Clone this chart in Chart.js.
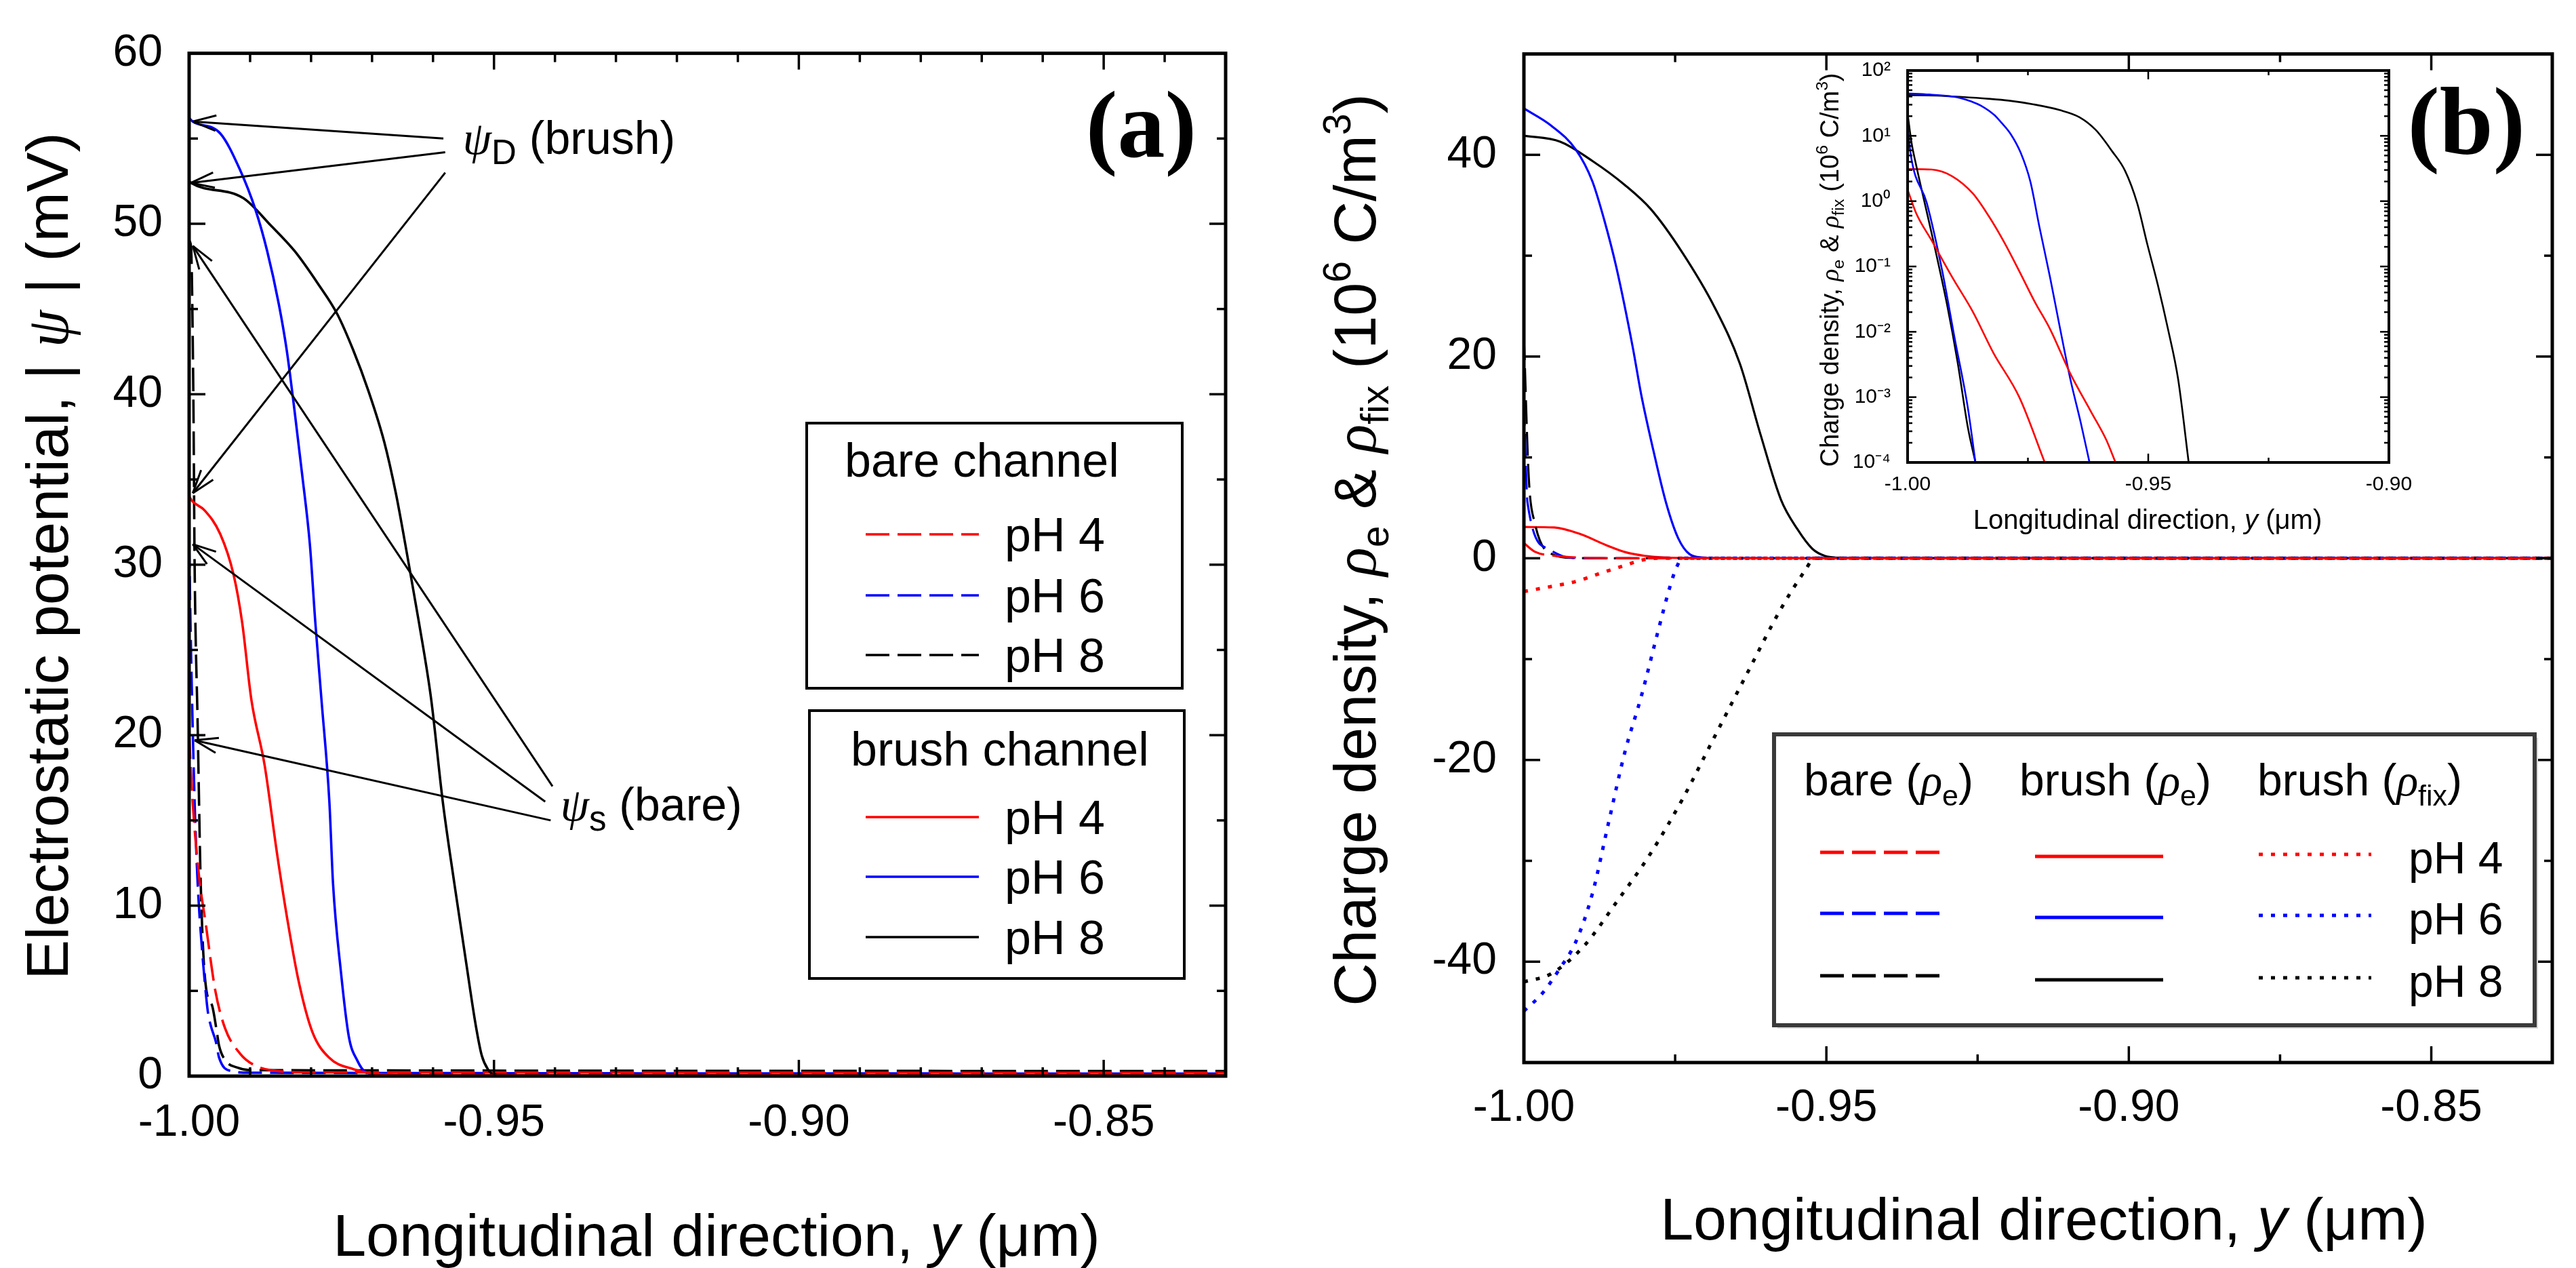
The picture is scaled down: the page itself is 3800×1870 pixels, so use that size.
<!DOCTYPE html>
<html lang="en">
<head>
<meta charset="UTF-8">
<title>Potential and charge density along the channel</title>
<script src="https://cdn.jsdelivr.net/npm/chart.js@4.4.7/dist/chart.umd.min.js"></script>
<style>
  html, body { margin: 0; padding: 0; background: #fff; }
  body { width: 3800px; height: 1870px; position: relative; overflow: hidden; }
  canvas { position: absolute; }
  #chartA { left: 0; top: 0; }
  #chartB { left: 1900px; top: 0; }
  #inset { left: 2600px; top: 40px; }
</style>
</head>
<body>
<canvas id="chartA" width="1900" height="1870"></canvas>
<canvas id="chartB" width="1900" height="1870"></canvas>
<canvas id="inset" width="1000" height="800"></canvas>
<script>
// ---------- data ----------
// (a) electrostatic potential |psi| (mV) vs y (um)
const yBare4 = [-1.000, -0.9995, -0.9984, -0.9973, -0.9957, -0.9941, -0.9916, -0.9896, -0.9866, -0.980, -0.830];
const psiBare4 = [20.0, 16.5, 11.8, 9.0, 5.0, 2.8, 1.3, 0.7, 0.35, 0.22, 0.2];
const yBare6 = [-1.000, -0.9997, -0.9991, -0.9986, -0.9979, -0.9973, -0.9969, -0.9964, -0.9956, -0.9951, -0.9932, -0.990, -0.830];
const psiBare6 = [31.2, 25.1, 16.1, 11.3, 7.5, 5.0, 3.7, 2.9, 2.0, 1.1, 0.3, 0.2, 0.15];
const yBare8 = [-1.000, -0.9997, -0.9993, -0.9991, -0.9986, -0.9981, -0.9973, -0.9962, -0.9955, -0.9951, -0.994, -0.9921, -0.990, -0.830];
const psiBare8 = [49.0, 48.7, 39.6, 30.0, 20.6, 11.3, 5.4, 4.1, 2.7, 1.8, 0.9, 0.5, 0.35, 0.3];
const yBrush4 = [-1.000, -0.9994, -0.9975, -0.9949, -0.9927, -0.9913, -0.9898, -0.9876, -0.9856, -0.9838, -0.982, -0.9798, -0.9771, -0.973, -0.969, -0.960, -0.830];
const psiBrush4 = [34.0, 33.7, 33.2, 31.8, 29.4, 26.6, 22.1, 18.2, 13.1, 9.0, 5.5, 2.6, 1.1, 0.4, 0.12, 0.05, 0.05];
const yBrush6 = [-1.000, -0.9994, -0.9949, -0.9917, -0.9891, -0.9872, -0.9853, -0.984, -0.9827, -0.9815, -0.9802, -0.9793, -0.9783, -0.977, -0.9764, -0.9751, -0.9738, -0.9724, -0.9711, -0.968, -0.830];
const psiBrush6 = [56.2, 56.0, 55.3, 53.2, 50.8, 48.4, 45.3, 42.6, 39.0, 35.4, 31.2, 26.6, 22.1, 16.1, 11.3, 6.1, 2.3, 0.9, 0.25, 0.05, 0.05];
const yBrush8 = [-1.000, -0.9997, -0.9911, -0.9866, -0.9827, -0.9789, -0.9757, -0.9731, -0.9706, -0.968, -0.9661, -0.9642, -0.9623, -0.9603, -0.9584, -0.9565, -0.9545, -0.953, -0.952, -0.951, -0.950, -0.945, -0.830];
const psiBrush8 = [52.5, 52.4, 51.5, 49.9, 48.4, 46.5, 44.7, 42.6, 40.2, 37.2, 34.2, 30.5, 26.6, 22.1, 16.1, 11.3, 6.5, 3.0, 1.2, 0.4, 0.1, 0.05, 0.05];

// (b) charge density (10^6 C/m^3): rho_e is positive, rho_fix negative
const yRhoBare4 = [-1.000, -0.9982, -0.995, -0.9907, -0.9864, -0.9822, -0.9768, -0.9715];
const rhoBare4 = [1.5, 0.65, 0.25, 0.068, 0.02, 0.0048, 0.001, 0.0001];
const yRhoBare6 = [-1.000, -0.9994, -0.996, -0.9928, -0.9902, -0.9875, -0.9859];
const rhoBare6 = [15.5, 5.5, 0.93, 0.085, 0.0078, 0.0007, 0.0001];
const yRhoBare8 = [-1.000, -0.9992, -0.9982, -0.995, -0.9918, -0.9896, -0.9875, -0.9859];
const rhoBare8 = [22.0, 8.0, 3.5, 0.32, 0.026, 0.0034, 0.00035, 0.0001];
const yRhoBrush4 = [-1.000, -0.995, -0.9907, -0.9864, -0.9832, -0.980, -0.9768, -0.9736, -0.9704, -0.9662, -0.9619, -0.9587, -0.9568];
const rhoBrush4 = [3.1, 3.05, 2.4, 1.3, 0.6, 0.24, 0.085, 0.029, 0.011, 0.0023, 0.0006, 0.00022, 0.0001];
const yRhoBrush6 = [-1.000, -0.9955, -0.9914, -0.9887, -0.9867, -0.9847, -0.982, -0.9806, -0.9786, -0.9765, -0.9745, -0.9726, -0.9704, -0.9683, -0.9662, -0.964, -0.9622];
const rhoBrush6 = [44.6, 42.9, 40.5, 37.4, 33.5, 28.8, 20.9, 16.2, 10.7, 5.5, 2.0, 0.4, 0.068, 0.011, 0.0019, 0.0004, 0.0001];
const yRhoBrush8 = [-1.000, -0.994, -0.9887, -0.9833, -0.979, -0.9738, -0.9684, -0.9643, -0.9609, -0.9575, -0.9548, -0.9523, -0.9502, -0.948, -0.9459, -0.9438, -0.9416];
const rhoBrush8 = [41.9, 41.3, 39.4, 37.0, 34.6, 30.3, 24.8, 19.3, 12.3, 5.8, 2.9, 0.93, 0.22, 0.052, 0.011, 0.0019, 0.0001];
const yFix4 = [-1.000, -0.9955, -0.9914, -0.9874, -0.9833, -0.9806, -0.978, -0.830];
const rhoFix4 = [-3.3, -2.8, -2.3, -1.5, -0.7, -0.2, 0, 0];
const yFix6 = [-1.000, -0.9969, -0.9942, -0.9914, -0.9887, -0.986, -0.9833, -0.9806, -0.9779, -0.9758, -0.9749, -0.9738, -0.830];
const rhoFix6 = [-44.9, -43.1, -40.8, -38.0, -33.3, -26.2, -19.2, -13.7, -7.4, -2.7, -1.1, 0, 0];
const yFix8 = [-1.000, -0.9955, -0.990, -0.9847, -0.9792, -0.9738, -0.9684, -0.963, -0.9575, -0.9534, -0.952, -0.830];
const rhoFix8 = [-42.0, -41.2, -38.4, -34.1, -29.4, -23.9, -17.6, -11.3, -5.0, -1.1, 0, 0];

// tick values and labels
const xTicksMain = [-1.00, -0.95, -0.90, -0.85];
const yTicksA = [0, 10, 20, 30, 40, 50, 60];
const yTicksB = [-40, -20, 0, 20, 40];
const xTicksInset = [-1.00, -0.95, -0.90];
const yTicksInset = [1e-4, 1e-3, 1e-2, 1e-1, 1, 10, 100];
const yLabelsInset = ['10\u207B\u2074', '10\u207B\u00B3', '10\u207B\u00B2', '10\u207B\u00B9', '10\u2070', '10\u00B9', '10\u00B2'];

// annotation arrows of panel (a): [tail x, tail y, head x, head y] in data units
const arrowsPsiD = [[-0.9583, 55.0, -0.9994, 56.0], [-0.9580, 54.2, -0.9997, 52.4], [-0.9580, 53.0, -0.9994, 34.2]];
const arrowsPsiS = [[-0.9404, 17.0, -0.9994, 48.7], [-0.9416, 16.1, -0.9994, 31.2], [-0.9407, 15.0, -0.9991, 19.7]];
const labelPsiD = [-0.9551, 54.1];
const labelPsiS = [-0.9391, 15.0];

// ---------- helpers ----------
const FONT = '"Liberation Sans", Arial, sans-serif';
const GREEK = '"Liberation Serif", "DejaVu Serif", serif';
const RED = '#ff0000', BLUE = '#0000ff', BLACK = '#000000';
const DASH = [35, 12], DOT = [6, 12];

function pts(xs, ys) { return xs.map((x, i) => ({ x: x, y: ys[i] })); }

function line(xs, ys, color, dash, width) {
  return {
    data: pts(xs, ys), borderColor: color, borderDash: dash || [], borderWidth: width,
    pointRadius: 0, fill: false, cubicInterpolationMode: 'monotone'
  };
}

function runFont(r, size) {
  const s = (r.sub || r.sup) ? size * (r.small || 0.65) : size;
  return (r.it ? 'italic ' : '') + s + 'px ' + (r.gr ? GREEK : FONT);
}

function drawRich(ctx, runs, x, y, size, align, rot) {
  ctx.save();
  ctx.translate(x, y);
  ctx.rotate(rot || 0);
  ctx.fillStyle = '#000';
  ctx.textBaseline = 'alphabetic';
  ctx.textAlign = 'left';
  let w = 0;
  runs.forEach(r => { ctx.font = runFont(r, size); w += ctx.measureText(r.t).width; });
  let cx = align === 'center' ? -w / 2 : (align === 'right' ? -w : 0);
  runs.forEach(r => {
    ctx.font = runFont(r, size);
    const dy = r.sub ? size * 0.22 : (r.sup ? -size * 0.42 : 0);
    ctx.fillText(r.t, cx, dy);
    cx += ctx.measureText(r.t).width;
  });
  ctx.restore();
}

function seg(ctx, x1, y1, x2, y2) {
  ctx.beginPath(); ctx.moveTo(x1, y1); ctx.lineTo(x2, y2); ctx.stroke();
}

// box frame with inward ticks on all four sides
function frameTicks(chart, s) {
  const { ctx, chartArea: a } = chart;
  const x = chart.scales.x, y = chart.scales.y;
  ctx.save();
  ctx.strokeStyle = '#000';
  ctx.lineCap = 'butt';
  ctx.lineWidth = s.tickWidth;
  const xt = (v, len) => {
    const p = x.getPixelForValue(v);
    seg(ctx, p, a.bottom, p, a.bottom - len);
    seg(ctx, p, a.top, p, a.top + len);
  };
  const yt = (v, len) => {
    const p = y.getPixelForValue(v);
    seg(ctx, a.left, p, a.left + len, p);
    seg(ctx, a.right, p, a.right - len, p);
  };
  s.xMajor.forEach(v => xt(v, s.major));
  s.xMinor.forEach(v => xt(v, s.minor));
  s.yMajor.forEach(v => yt(v, s.major));
  s.yMinor.forEach(v => yt(v, s.minor));
  ctx.lineWidth = s.frame;
  ctx.strokeRect(a.left, a.top, a.right - a.left, a.bottom - a.top);
  ctx.restore();
}

function axisX(ticks, fmt, fontSize, pad, height, min, max) {
  return {
    type: 'linear', min: min, max: max,
    afterBuildTicks: s => { s.ticks = ticks.map(v => ({ value: v })); },
    afterFit: s => { s.height = height; },
    grid: { display: false, drawTicks: false }, border: { display: false },
    ticks: { callback: fmt, font: { family: FONT, size: fontSize }, color: '#000', padding: pad, maxRotation: 0, autoSkip: false }
  };
}

function axisY(type, ticks, fmt, fontSize, pad, width, min, max) {
  return {
    type: type, min: min, max: max,
    afterBuildTicks: s => { s.ticks = ticks.map(v => ({ value: v })); },
    afterFit: s => { s.width = width; },
    grid: { display: false, drawTicks: false }, border: { display: false },
    ticks: { callback: fmt, font: { family: FONT, size: fontSize }, color: '#000', padding: pad, autoSkip: false }
  };
}

function baseOptions(padding, scales) {
  return {
    responsive: false, animation: false, devicePixelRatio: 1,
    layout: { padding: padding },
    plugins: { legend: { display: false }, tooltip: { enabled: false } },
    scales: scales
  };
}

const titleX = [{ t: 'Longitudinal direction, ' }, { t: 'y', it: true }, { t: ' (\u03BCm)' }];

// ---------- panel (a) ----------
const minorA = [];
for (let k = 1; k < 17; k++) { if (k % 5) minorA.push(-1 + k * 0.01); }

const panelA = {
  id: 'panelA',
  afterDraw(chart) {
    const ctx = chart.ctx;
    const xs = chart.scales.x, ys = chart.scales.y;
    frameTicks(chart, {
      xMajor: xTicksMain, xMinor: minorA, yMajor: yTicksA, yMinor: [5, 15, 25, 35, 45, 55],
      major: 24, minor: 13, tickWidth: 3.5, frame: 5
    });

    // annotation arrows
    ctx.save();
    ctx.strokeStyle = '#000';
    ctx.lineWidth = 3;
    arrowsPsiD.concat(arrowsPsiS).forEach(r => {
      const x1 = xs.getPixelForValue(r[0]), y1 = ys.getPixelForValue(r[1]);
      const x2 = xs.getPixelForValue(r[2]), y2 = ys.getPixelForValue(r[3]);
      seg(ctx, x1, y1, x2, y2);
      const ang = Math.atan2(y1 - y2, x1 - x2);
      [0.32, -0.32].forEach(d => seg(ctx, x2, y2, x2 + 36 * Math.cos(ang + d), y2 + 36 * Math.sin(ang + d)));
    });
    ctx.restore();
    drawRich(ctx, [{ t: '\u03C8', it: true, gr: true }, { t: 'D', sub: true, small: 0.75 }, { t: ' (brush)' }],
      xs.getPixelForValue(labelPsiD[0]), ys.getPixelForValue(labelPsiD[1]), 68, 'left');
    drawRich(ctx, [{ t: '\u03C8', it: true, gr: true }, { t: 's', sub: true, small: 0.75 }, { t: ' (bare)' }],
      xs.getPixelForValue(labelPsiS[0]), ys.getPixelForValue(labelPsiS[1]), 68, 'left');

    // legend boxes
    ctx.save();
    ctx.lineWidth = 4;
    ctx.strokeStyle = '#000';
    ctx.fillStyle = '#fff';
    [[1190, 624, 554, 391], [1194, 1048, 553, 395]].forEach(b => {
      ctx.fillRect(b[0], b[1], b[2], b[3]);
      ctx.strokeRect(b[0], b[1], b[2], b[3]);
    });
    ctx.restore();
    drawRich(ctx, [{ t: 'bare channel' }], 1246, 703, 70, 'left');
    drawRich(ctx, [{ t: 'brush channel' }], 1255, 1129, 70, 'left');
    const rows = [
      [788, RED, DASH, 'pH 4'], [878, BLUE, DASH, 'pH 6'], [966, BLACK, DASH, 'pH 8'],
      [1205, RED, [], 'pH 4'], [1293, BLUE, [], 'pH 6'], [1382, BLACK, [], 'pH 8']
    ];
    rows.forEach(r => {
      ctx.save();
      ctx.strokeStyle = r[1];
      ctx.lineWidth = 3.5;
      ctx.setLineDash(r[2]);
      seg(ctx, 1277, r[0], 1444, r[0]);
      ctx.restore();
      drawRich(ctx, [{ t: r[3] }], 1482, r[0] + 25, 70, 'left');
    });

    // panel tag and axis titles
    ctx.save();
    ctx.font = 'bold 140px "Liberation Serif", serif';
    ctx.fillStyle = '#000';
    ctx.textAlign = 'right';
    ctx.fillText('(a)', 1765, 231);
    ctx.restore();
    drawRich(ctx, [{ t: 'Electrostatic potential, | ' }, { t: '\u03C8', it: true, gr: true }, { t: ' | (mV)' }],
      100, 820, 88, 'center', -Math.PI / 2);
    drawRich(ctx, titleX, 1057, 1852, 88, 'center');
  }
};

new Chart(document.getElementById('chartA'), {
  type: 'line',
  data: {
    datasets: [
      line(yBrush4, psiBrush4, RED, [], 3.6),
      line(yBrush6, psiBrush6, BLUE, [], 3.6),
      line(yBrush8, psiBrush8, BLACK, [], 3.6),
      line(yBare4, psiBare4, RED, DASH, 3.6),
      line(yBare6, psiBare6, BLUE, DASH, 3.6),
      line(yBare8, psiBare8, BLACK, DASH, 3.6)
    ]
  },
  options: baseOptions({ left: 0, top: 58, right: 92, bottom: 0 }, {
    x: axisX(xTicksMain, v => v.toFixed(2), 66, 30, 283, -1.0, -0.83),
    y: axisY('linear', yTicksA, v => String(v), 66, 39, 279, 0, 60)
  }),
  plugins: [panelA]
});

// ---------- panel (b) ----------
const rhoE = (xs, ys) => ({ x: xs.concat([-0.83]), y: ys.concat([0]) });
const b4 = rhoE(yRhoBare4, rhoBare4), b6 = rhoE(yRhoBare6, rhoBare6), b8 = rhoE(yRhoBare8, rhoBare8);
const r4 = rhoE(yRhoBrush4, rhoBrush4), r6 = rhoE(yRhoBrush6, rhoBrush6), r8 = rhoE(yRhoBrush8, rhoBrush8);

const rhoRun = sub => [{ t: '\u03C1', it: true, gr: true }, { t: sub, sub: true }];

const panelB = {
  id: 'panelB',
  afterDraw(chart) {
    const ctx = chart.ctx;
    frameTicks(chart, {
      xMajor: xTicksMain, xMinor: [-0.975, -0.925, -0.875], yMajor: yTicksB, yMinor: [-30, -10, 10, 30],
      major: 24, minor: 12, tickWidth: 3.5, frame: 5
    });

    // legend
    const L = 717, T = 1083, W = 1122, H = 429;
    ctx.save();
    ctx.fillStyle = '#d8d8d8';
    ctx.fillRect(L + 5, T + 5, W, H);
    ctx.fillStyle = '#fff';
    ctx.fillRect(L, T, W, H);
    ctx.strokeStyle = '#3a3a3a';
    ctx.lineWidth = 6;
    ctx.strokeRect(L, T, W, H);
    ctx.restore();
    drawRich(ctx, [{ t: 'bare (' }].concat(rhoRun('e'), [{ t: ')' }]), 761, 1173, 66, 'left');
    drawRich(ctx, [{ t: 'brush (' }].concat(rhoRun('e'), [{ t: ')' }]), 1079, 1173, 66, 'left');
    drawRich(ctx, [{ t: 'brush (' }].concat(rhoRun('fix'), [{ t: ')' }]), 1430, 1173, 66, 'left');
    [[1260, RED, 'pH 4'], [1350, BLUE, 'pH 6'], [1442, BLACK, 'pH 8']].forEach(r => {
      ctx.save();
      ctx.strokeStyle = r[1];
      ctx.lineWidth = 5;
      ctx.setLineDash(DASH);
      seg(ctx, 785, r[0] - 3, 965, r[0] - 3);
      ctx.setLineDash([]);
      seg(ctx, 1102, r[0] + 3, 1291, r[0] + 3);
      ctx.setLineDash(DOT);
      seg(ctx, 1432, r[0], 1598, r[0]);
      ctx.restore();
      drawRich(ctx, [{ t: r[2] }], 1653, r[0] + 28, 66, 'left');
    });

    ctx.save();
    ctx.font = 'bold 142px "Liberation Serif", serif';
    ctx.fillStyle = '#000';
    ctx.textAlign = 'right';
    ctx.fillText('(b)', 1825, 227);
    ctx.restore();
    drawRich(ctx, [{ t: 'Charge density, ' }].concat(rhoRun('e'), [{ t: ' & ' }], rhoRun('fix'),
      [{ t: ' (10' }, { t: '6', sup: true }, { t: ' C/m' }, { t: '3', sup: true }, { t: ')' }]),
      129, 811, 88, 'center', -Math.PI / 2);
    drawRich(ctx, titleX, 1115, 1828, 88, 'center');
  }
};

new Chart(document.getElementById('chartB'), {
  type: 'line',
  data: {
    datasets: [
      line(b4.x, b4.y, RED, DASH, 3.2),
      line(b6.x, b6.y, BLUE, DASH, 3.2),
      line(b8.x, b8.y, BLACK, DASH, 3.2),
      line(r4.x, r4.y, RED, [], 3.2),
      line(r6.x, r6.y, BLUE, [], 3.2),
      line(r8.x, r8.y, BLACK, [], 3.2),
      line(yFix4, rhoFix4, RED, DOT, 5),
      line(yFix6, rhoFix6, BLUE, DOT, 5),
      line(yFix8, rhoFix8, BLACK, DOT, 5)
    ]
  },
  options: baseOptions({ left: 0, top: 46, right: 35, bottom: 0 }, {
    x: axisX(xTicksMain, v => v.toFixed(2), 66, 28, 303, -1.0, -0.83),
    y: axisY('linear', yTicksB, v => String(v), 66, 40, 348, -50, 50)
  }),
  plugins: [panelB]
});

// ---------- inset of (b): rho_e on a log axis ----------
const logMinor = [];
for (let d = -4; d < 2; d++) { for (let k = 2; k < 10; k++) logMinor.push(k * Math.pow(10, d)); }

const insetDraw = {
  id: 'insetDraw',
  afterDraw(chart) {
    const ctx = chart.ctx;
    frameTicks(chart, {
      xMajor: xTicksInset, xMinor: [-0.975, -0.925], yMajor: yTicksInset, yMinor: logMinor,
      major: 13, minor: 7, tickWidth: 2.5, frame: 4
    });
    drawRich(ctx, [{ t: 'Charge density, ' }].concat(rhoRun('e'), [{ t: ' & ' }], rhoRun('fix'),
      [{ t: ' (10' }, { t: '6', sup: true }, { t: ' C/m' }, { t: '3', sup: true }, { t: ')' }]),
      112, 358, 38, 'center', -Math.PI / 2);
    drawRich(ctx, titleX, 568, 740, 40, 'center');
  }
};

new Chart(document.getElementById('inset'), {
  type: 'line',
  data: {
    datasets: [
      line(yRhoBare4, rhoBare4, RED, [], 2.6),
      line(yRhoBare6, rhoBare6, BLUE, [], 2.6),
      line(yRhoBare8, rhoBare8, BLACK, [], 2.6),
      line(yRhoBrush4, rhoBrush4, RED, [], 2.6),
      line(yRhoBrush6, rhoBrush6, BLUE, [], 2.6),
      line(yRhoBrush8, rhoBrush8, BLACK, [], 2.6)
    ]
  },
  options: baseOptions({ left: 0, top: 64, right: 76, bottom: 0 }, {
    x: axisX(xTicksInset, v => v.toFixed(2), 30, 15, 158, -1.0, -0.9),
    y: axisY('logarithmic', yTicksInset, (v, i) => yLabelsInset[i], 30, 25, 214, 1e-4, 100)
  }),
  plugins: [insetDraw]
});
</script>
</body>
</html>
